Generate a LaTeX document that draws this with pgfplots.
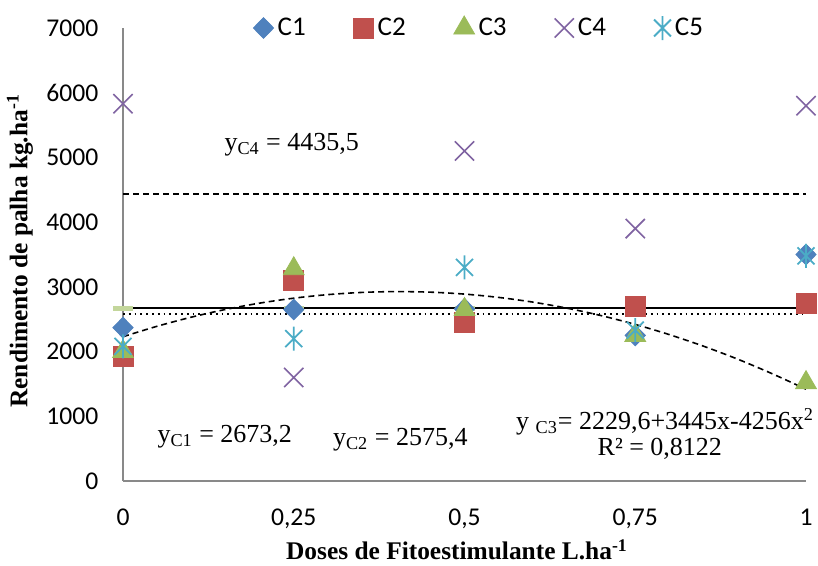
\documentclass[border=0pt]{standalone}
\usepackage{fontspec}
\setmainfont{Liberation Serif}
\newfontfamily\calibri{Carlito}
\usepackage{pgfplots}
\pgfplotsset{compat=1.18}
\definecolor{cA}{HTML}{4F81BD}
\definecolor{cB}{HTML}{C0504D}
\definecolor{cC}{HTML}{9BBB59}
\definecolor{cD}{HTML}{8064A2}
\definecolor{cE}{HTML}{4BACC6}
\definecolor{cLG}{HTML}{C3D69B}
\definecolor{axgray}{HTML}{898989}
\pgfdeclareplotmark{xstar}{%
 \pgfpathmoveto{\pgfqpoint{-0.7071\pgfplotmarksize}{-0.7071\pgfplotmarksize}}%
 \pgfpathlineto{\pgfqpoint{0.7071\pgfplotmarksize}{0.7071\pgfplotmarksize}}%
 \pgfpathmoveto{\pgfqpoint{-0.7071\pgfplotmarksize}{0.7071\pgfplotmarksize}}%
 \pgfpathlineto{\pgfqpoint{0.7071\pgfplotmarksize}{-0.7071\pgfplotmarksize}}%
 \pgfpathmoveto{\pgfqpoint{0pt}{\pgfplotmarksize}}%
 \pgfpathlineto{\pgfqpoint{0pt}{-\pgfplotmarksize}}%
 \pgfusepathqstroke}
\pgfplotsset{myleg/.style={legend image code/.code={\draw[mark repeat=2,mark phase=2,##1] plot coordinates {(0pt,0pt)(5pt,0pt)(10pt,0pt)};}}}
\begin{document}
\begin{tikzpicture}
\useasboundingbox (-61.5pt,-42.5pt) rectangle (347.5pt,240.5pt);
\begin{axis}[
  scale only axis, width=341.5pt, height=226.5pt,
  at={(0,0)}, anchor=south west,
  xmin=0, xmax=1, ymin=0, ymax=7000,
  axis lines*=left,
  axis line style={draw=axgray, line width=0.75pt},
  xtick={0,0.25,0.5,0.75,1},
  xticklabels={0,{0,25},{0,5},{0,75},1},
  ytick={0,1000,2000,3000,4000,5000,6000,7000},
  major tick length=0pt,
  /pgf/number format/assume math mode=true,
  /pgf/number format/1000 sep={},
  tick label style={font=\calibri\fontsize{12.8}{15}\selectfont},
  xticklabel style={anchor=base, yshift=-22.3pt},
  yticklabel style={anchor=east, xshift=-8.8pt},
  clip=false,
  every axis x label/.style={at={(axis description cs:0.489,-0.152)}, anchor=center},
  every axis y label/.style={at={(axis description cs:-0.151,0.508)}, anchor=center, rotate=90},
  label style={font=\fontsize{12.7}{15}\selectfont\bfseries},
  xlabel={Doses de Fitoestimulante L.ha\textsuperscript{-1}},
  ylabel={Rendimento de palha kg.ha\textsuperscript{-1}},
  legend columns=5,
  legend style={at={(axis cs:0.523,7000)}, anchor=center, draw=none, fill=none,
    font=\calibri\fontsize{13.5}{15}\selectfont,
    nodes={inner xsep=2pt},
    /tikz/every even column/.append style={column sep=22pt}},
]
% trend lines
\addplot[forget plot, black, line width=0.8pt] coordinates {(0,2673.2) (1,2673.2)};
\addplot[forget plot, black, line width=0.9pt, dotted] coordinates {(0,2575.4) (1,2575.4)};
\addplot[forget plot, black, line width=0.8pt, dash pattern=on 3pt off 2pt] coordinates {(0,4435.5) (1,4435.5)};
\addplot[forget plot, black, line width=0.8pt, dash pattern=on 3pt off 2pt, smooth] coordinates {
 (0,2229.6) (0.05,2391.2) (0.1,2531.5) (0.15,2650.6) (0.2,2748.4) (0.25,2824.9)
 (0.3,2880.1) (0.35,2914.0) (0.4,2926.6) (0.45,2918.0) (0.5,2888.1) (0.55,2836.9)
 (0.6,2764.4) (0.65,2670.7) (0.7,2555.7) (0.75,2419.4) (0.8,2261.8) (0.85,2082.9)
 (0.9,1882.7) (0.95,1659.9) (1,1418.6)};
\addplot[forget plot, only marks, mark=-, mark size=5pt, cLG, line width=2.5pt] coordinates {
 (0,2673.2) (0.25,2673.2) (0.5,2673.2) (0.75,2673.2) (1,2673.2)};
% data
\addplot[only marks, myleg, mark=diamond*, mark size=5.2pt, mark options={xscale=1.3}, color=cA, fill=cA] coordinates {
 (0,2370) (0.25,2650) (0.5,2660) (0.75,2250) (1,3500)};
\addlegendentry{C1}
\addplot[only marks, myleg, mark=square*, mark size=5pt, color=cB, fill=cB] coordinates {
 (0,1920) (0.25,3100) (0.5,2450) (0.75,2700) (1,2750)};
\addlegendentry{C2}
\addplot[only marks, myleg, mark=triangle*, mark size=6pt, color=cC, fill=cC] coordinates {
 (0,2000) (0.25,3280) (0.5,2650) (0.75,2250) (1,1520)};
\addlegendentry{C3}
\addplot[only marks, myleg, mark=x, mark size=6.8pt, color=cD, line width=0.8pt] coordinates {
 (0,5830) (0.25,1600) (0.5,5100) (0.75,3900) (1,5800)};
\addlegendentry{C4}
\addplot[only marks, myleg, mark=xstar, mark size=6pt, color=cE, line width=0.9pt] coordinates {
 (0,2080) (0.25,2200) (0.5,3300) (0.75,2330) (1,3480)};
\addlegendentry{C5}
% annotations
\node[font=\fontsize{13}{15}\selectfont] at (axis cs:0.247,5192) {y\textsubscript{C4} = 4435,5};
\node[font=\fontsize{13}{15}\selectfont] at (axis cs:0.149,680) {y\textsubscript{C1} = 2673,2};
\node[font=\fontsize{13}{15}\selectfont] at (axis cs:0.406,634) {y\textsubscript{C2} = 2575,4};
\node[font=\fontsize{13}{15}\selectfont] at (axis cs:0.7936,912) {y \textsubscript{C3}= 2229,6+3445x-4256x\textsuperscript{2}};
\node[font=\fontsize{13}{15}\selectfont] at (axis cs:0.786,494) {R² = 0,8122};
\end{axis}
\end{tikzpicture}
\end{document}
